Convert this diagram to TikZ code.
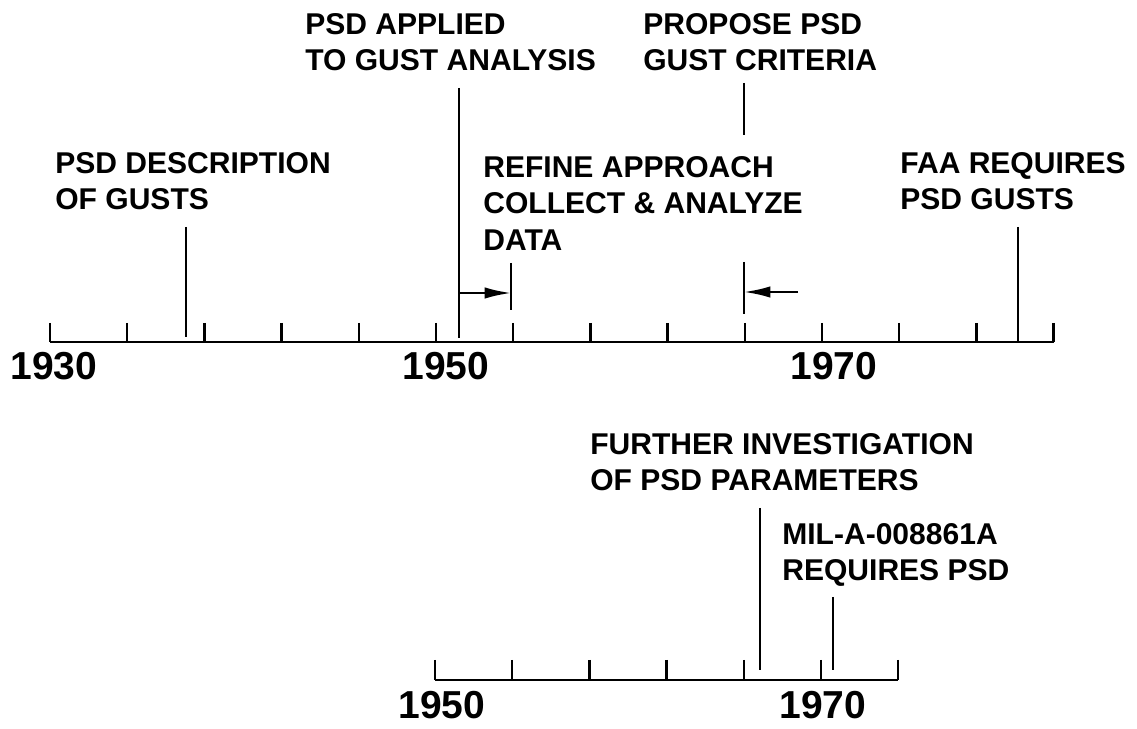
\documentclass[tikz,border=0pt]{standalone}
\usepackage{fontspec}
\setmainfont{Liberation Sans}
\usetikzlibrary{arrows.meta}
\tikzset{
  eventLabel/.style={anchor=north west, inner sep=0pt, align=left,
    font=\fontsize{17.1}{20.8}\selectfont\bfseries},
  yearLabel/.style={inner sep=0pt, font=\fontsize{22.2}{24}\selectfont\bfseries},
  axisLine/.style={line width=1.7pt},
  tickMark/.style={line width=1.4pt},
  eventLine/.style={line width=1.5pt},
  spanArrow/.style={line width=1.3pt, -{Latex[length=15pt, width=6.5pt]}},
}

\begin{document}
\begin{tikzpicture}[x=0.02cm, y=-0.02cm]
  \useasboundingbox (0,0) rectangle (1137,729);

  % upper time line, 1930 to 1982
  \draw[axisLine] (50,342) -- (1054,342);
  \foreach \i in {0,...,13}
    \draw[tickMark] (50+77.2*\i,323) -- (50+77.2*\i,342);
  \node[yearLabel] (upper1930) at (54,366) {1930};
  \node[yearLabel] (upper1950) at (446,366) {1950};
  \node[yearLabel] (upper1970) at (834,366) {1970};

  % events on the upper line
  \node[eventLabel] (gustDesc) at (55,152) {PSD DESCRIPTION\\OF GUSTS};
  \node[eventLabel] (gustAnalysis) at (305,13) {PSD APPLIED\\TO GUST ANALYSIS};
  \node[eventLabel] (refineData) at (483,156) {REFINE APPROACH\\COLLECT \& ANALYZE\\DATA};
  \node[eventLabel] (gustCriteria) at (643,13) {PROPOSE PSD\\GUST CRITERIA};
  \node[eventLabel] (faaGusts) at (900,152) {FAA REQUIRES\\PSD GUSTS};

  \coordinate (descTop) at (186,227);
  \coordinate (descFoot) at (186,337);
  \coordinate (analysisTop) at (459,88);
  \coordinate (analysisFoot) at (459,338);
  \coordinate (analysisArrow) at (459,293);
  \coordinate (refineTop) at (511,263);
  \coordinate (refineFoot) at (511,310);
  \coordinate (refineArrow) at (511,293);
  \coordinate (criteriaTop) at (744,83);
  \coordinate (criteriaFoot) at (744,135);
  \coordinate (criteriaBarTop) at (744,262);
  \coordinate (criteriaBarFoot) at (744,314);
  \coordinate (criteriaArrow) at (744,292);
  \coordinate (criteriaTail) at (798,292);
  \coordinate (faaTop) at (1018,227);
  \coordinate (faaFoot) at (1018,341);

  \draw[eventLine] (descTop) -- (descFoot);
  \draw[eventLine] (analysisTop) -- (analysisFoot);
  \draw[eventLine] (refineTop) -- (refineFoot);
  \draw[spanArrow] (analysisArrow) -- (refineArrow);
  \draw[eventLine] (criteriaTop) -- (criteriaFoot);
  \draw[eventLine] (criteriaBarTop) -- (criteriaBarFoot);
  \draw[spanArrow] (criteriaTail) -- (criteriaArrow);
  \draw[eventLine] (faaTop) -- (faaFoot);

  % lower time line, 1950 to 1974
  \draw[axisLine] (435,680) -- (898,680);
  \foreach \i in {0,...,6}
    \draw[tickMark] (435+77.2*\i,660) -- (435+77.2*\i,680);
  \node[yearLabel] (lower1950) at (442,705) {1950};
  \node[yearLabel] (lower1970) at (823,705) {1970};

  % events on the lower line
  \node[eventLabel] (paramStudy) at (590,433) {FURTHER INVESTIGATION\\OF PSD PARAMETERS};
  \node[eventLabel] (milSpec) at (782,523) {MIL-A-008861A\\REQUIRES PSD};

  \coordinate (paramTop) at (760,508);
  \coordinate (paramFoot) at (760,670);
  \coordinate (milTop) at (833,597);
  \coordinate (milFoot) at (833,670);

  \draw[eventLine] (paramTop) -- (paramFoot);
  \draw[eventLine] (milTop) -- (milFoot);
\end{tikzpicture}
\end{document}
